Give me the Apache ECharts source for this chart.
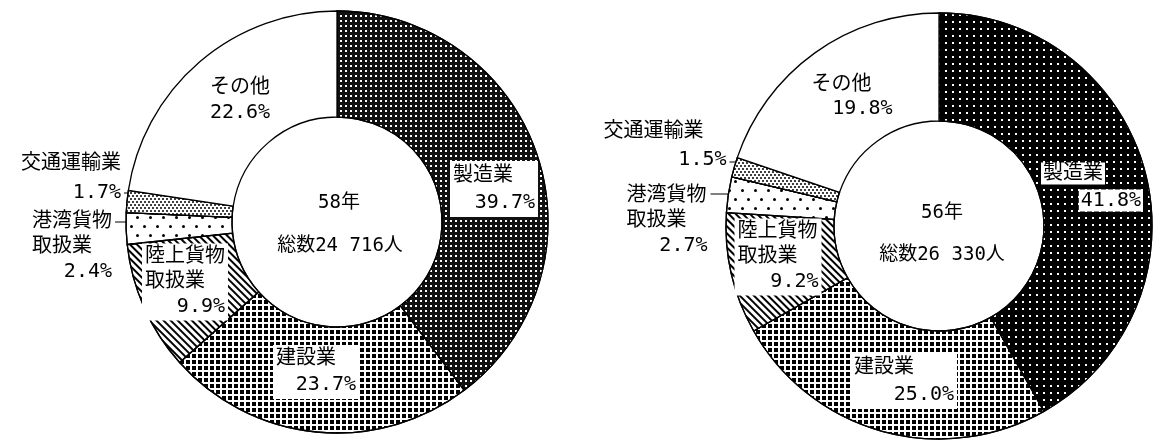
<!DOCTYPE html>
<html>
<head>
<meta charset="utf-8">
<script src="https://cdn.jsdelivr.net/npm/echarts@6/dist/echarts.min.js"></script>
<style>
  html, body { margin: 0; padding: 0; background: #fff; }
  #main { width: 1165px; height: 442px; }
</style>
</head>
<body>
<div id="main"></div>
<script>
// data
var categories = ['製造業', '建設業', '陸上貨物取扱業', '港湾貨物取扱業', '交通運輸業', 'その他'];
var values58 = [39.7, 23.7, 9.9, 2.4, 1.7, 22.6];
var values56 = [41.8, 25.0, 9.2, 2.7, 1.5, 19.8];
var years = ['58年', '56年'];
var totals = ['総数24 716人', '総数26 330人'];

var FONT = '"DejaVu Sans Mono", "Noto Sans CJK JP", sans-serif';

// geometry of the two rings
var pies = [
  { cx: 337, cy: 222, r0: 105, r: 211 },
  { cx: 939, cy: 226, r0: 105, r: 213 }
];

// label boxes: centre, width, line height, line alignment, background, leader y
var labelSpec = [
  [
    { x: 494, y: 189, w: 82, lh: 27, al: 'lr', bg: 'box' },
    { x: 316, y: 372, w: 80, lh: 26, al: 'lr', bg: 'box' },
    { x: 185, y: 282, w: 80, lh: 25, al: 'llr', bg: 'box' },
    { x: 72, y: 247, w: 80, lh: 25, al: 'llr', lead: 222 },
    { x: 71, y: 178, w: 100, lh: 29, al: 'rr', lead: 193 },
    { x: 240, y: 100, w: 66, lh: 25, al: 'cc' }
  ],
  [
    { x: 1092, y: 187, w: 102, lh: 27, al: 'lr', bg: 'line' },
    { x: 904, y: 381, w: 100, lh: 27, al: 'lr', bg: 'box' },
    { x: 778, y: 257, w: 81, lh: 25, al: 'llr', bg: 'box' },
    { x: 667, y: 221, w: 81, lh: 25, al: 'llr', lead: 194 },
    { x: 665, y: 146, w: 123, lh: 28, al: 'lr', lead: 162 },
    { x: 852, y: 97, w: 81, lh: 24, al: 'lr' }
  ]
];

var centerPos = [[339, 203, 340, 246], [942, 213, 942, 255]];

// fill patterns
var hatch = { symbol: 'rect', color: '#000', dashArrayX: [1, 0], dashArrayY: [1.7, 2.4], rotation: Math.PI / 4 };
var checker = { symbol: 'rect', color: '#000', dashArrayX: [3.5, 1.8], dashArrayY: [3.5, 1.8], symbolSize: 1 };
var sparse = { symbol: 'circle', color: '#000', dashArrayX: [[2.8, 9.2], [0, 6, 2.8, 3.2]], dashArrayY: [2.8, 5.2], symbolSize: 1 };
var dense = { symbol: 'circle', color: '#000', dashArrayX: [[2, 2], [0, 2, 2, 0]], dashArrayY: [2, 1], symbolSize: 1 };
var fills = [
  [
    { color: '#111', decal: { symbol: 'rect', color: '#fff', dashArrayX: [1.6, 2.8], dashArrayY: [1.6, 2.8], symbolSize: 1 } },
    { color: '#fff', decal: checker },
    { color: '#fff', decal: hatch },
    { color: '#fff', decal: sparse },
    { color: '#fff', decal: dense },
    { color: '#fff' }
  ],
  [
    { color: '#000', decal: { symbol: 'rect', color: '#fff', dashArrayX: [1.1, 4.4], dashArrayY: [1.1, 4.4], symbolSize: 1 } },
    { color: '#fff', decal: checker },
    { color: '#fff', decal: hatch },
    { color: '#fff', decal: sparse },
    { color: '#fff', decal: dense },
    { color: '#fff' }
  ]
];

var alignName = { l: 'left', r: 'right', c: 'center' };
var rich = {};
['l', 'r', 'c'].forEach(function (a) {
  rich[a] = { align: alignName[a] };
  rich[a + 'b'] = { align: alignName[a], backgroundColor: '#fff', padding: [1, 2] };
});

function labelText(k, i, v) {
  var s = labelSpec[k][i];
  var name = categories[i];
  var lines = name.length > 5 ? [name.slice(0, 4), name.slice(4)] : [name];
  lines.push(v.toFixed(1) + '%');
  return lines.map(function (t, j) {
    return '{' + s.al[j] + (s.bg === 'line' ? 'b' : '') + '|' + t + '}';
  }).join('\n');
}

function makeSeries(k, values) {
  var p = pies[k];
  return {
    type: 'pie',
    center: [p.cx, p.cy],
    radius: [p.r0, p.r],
    startAngle: 90,
    clockwise: true,
    avoidLabelOverlap: false,
    silent: true,
    animation: false,
    itemStyle: { borderColor: '#000', borderWidth: 1.3 },
    label: {
      show: true,
      position: 'inside',
      color: '#000',
      fontSize: 20,
      fontFamily: FONT,
      rich: rich,
      formatter: function (prm) { return labelText(k, prm.dataIndex, prm.value); }
    },
    labelLine: { show: false },
    labelLayout: function (prm) {
      var s = labelSpec[k][prm.dataIndex];
      var out = { x: s.x, y: s.y, align: 'center', verticalAlign: 'middle' };
      if (s.lead != null) {
        var dy = s.lead - p.cy;
        var xa = p.cx - Math.sqrt(p.r * p.r - dy * dy);
        out.labelLinePoints = [[xa + 12, s.lead], [xa, s.lead], [s.x + s.w / 2 + 3, s.lead]];
      }
      return out;
    },
    data: values.map(function (v, i) {
      var s = labelSpec[k][i];
      var style = { color: fills[k][i].color };
      if (fills[k][i].decal) style.decal = fills[k][i].decal;
      var item = {
        name: categories[i],
        value: v,
        itemStyle: style,
        label: { width: s.w, lineHeight: s.lh },
        labelLine: { show: false }
      };
      if (s.bg === 'box') {
        item.label.backgroundColor = '#fff';
        item.label.padding = [1, 3];
      }
      if (s.lead != null) {
        item.label.position = 'outside';
        item.labelLine = { show: true, length: 6, length2: 0, lineStyle: { color: '#000', width: 1 } };
      }
      return item;
    })
  };
}

var graphics = [];
years.forEach(function (y, k) {
  var c = centerPos[k];
  graphics.push({ type: 'text', x: c[0], y: c[1], silent: true,
    style: { text: y, fontSize: 19, fontFamily: FONT, fill: '#000', align: 'center', verticalAlign: 'middle', textAlign: 'center', textVerticalAlign: 'middle' } });
  graphics.push({ type: 'text', x: c[2], y: c[3], silent: true,
    style: { text: totals[k], fontSize: 19, fontFamily: FONT, fill: '#000', align: 'center', verticalAlign: 'middle', textAlign: 'center', textVerticalAlign: 'middle' } });
});

var chart = echarts.init(document.getElementById('main'));
chart.setOption({
  backgroundColor: '#fff',
  animation: false,
  series: [makeSeries(0, values58), makeSeries(1, values56)],
  graphic: graphics
});
</script>
</body>
</html>
